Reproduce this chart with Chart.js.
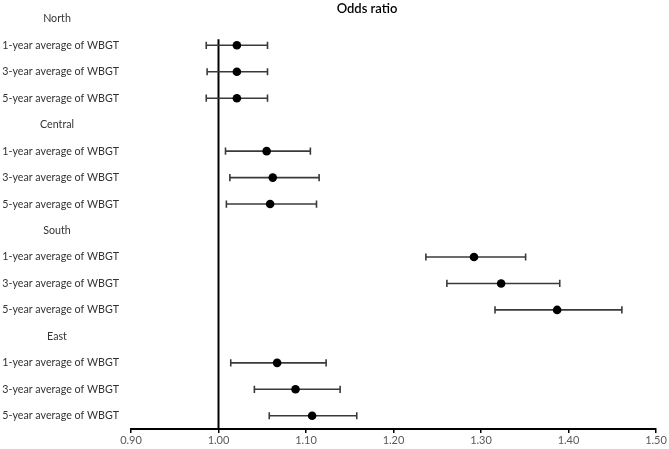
<!DOCTYPE html>
<html>
<head>
<meta charset="utf-8">
<script src="https://cdn.jsdelivr.net/npm/chart.js@4/dist/chart.umd.min.js"></script>
<style>
  html, body { margin: 0; padding: 0; background: #ffffff; }
  #wrap { width: 669px; height: 449px; }
</style>
</head>
<body>
<div id="wrap"><canvas id="forest" width="669" height="449"></canvas></div>
<script>
// Regions and exposure windows, in row order
const regions = ['North', 'Central', 'South', 'East'];
const exposures = ['1-year average of WBGT', '3-year average of WBGT', '5-year average of WBGT'];

// Odds ratios with 95% CI (region by region)
const oddsRatio = [1.021, 1.021, 1.021, 1.055, 1.062, 1.059, 1.292, 1.323, 1.387, 1.067, 1.088, 1.107];
const lowerCI   = [0.986, 0.987, 0.986, 1.008, 1.013, 1.009, 1.237, 1.261, 1.316, 1.014, 1.041, 1.058];
const upperCI   = [1.056, 1.056, 1.056, 1.105, 1.115, 1.112, 1.351, 1.390, 1.461, 1.123, 1.139, 1.158];

// X axis ticks and reference line
const xTicks = [0.90, 1.00, 1.10, 1.20, 1.30, 1.40, 1.50];
const nullValue = 1.00;

const FONT = 'Lato, "Open Sans", sans-serif';

// Build row layout: a header row per region followed by its exposure rows
const rowLabels = [];
const headerRows = [];
const dataRows = [];
regions.forEach((r) => {
    headerRows.push({ row: rowLabels.length, text: r });
    rowLabels.push('');
    exposures.forEach((e) => {
        dataRows.push(rowLabels.length);
        rowLabels.push(e);
    });
});

// One dataset per confidence interval so each gets its own line + caps
const ciSets = dataRows.map((row, i) => ({
    data: [{ x: lowerCI[i], y: row }, { x: upperCI[i], y: row }],
    showLine: true,
    borderColor: '#3a3a3a',
    borderWidth: 1.6,
    pointStyle: 'line',
    rotation: 90,
    pointRadius: 3.6,
    pointBorderWidth: 1.6,
    pointBorderColor: '#3a3a3a',
    order: 2
}));

const pointSet = {
    data: dataRows.map((row, i) => ({ x: oddsRatio[i], y: row })),
    showLine: false,
    pointStyle: 'circle',
    pointRadius: 4.3,
    backgroundColor: '#000000',
    pointBorderColor: '#000000',
    pointBorderWidth: 0,
    order: 1
};

const refLineSet = {
    data: [{ x: nullValue, y: 0.77 }, { x: nullValue, y: rowLabels.length - 0.5 }],
    showLine: true,
    borderColor: '#000000',
    borderWidth: 2,
    pointRadius: 0,
    order: 3
};

// Draws the region headers (centred) and the chart title
const headerPlugin = {
    id: 'headers',
    afterDraw(chart) {
        const ctx = chart.ctx;
        const y = chart.scales.y;
        ctx.save();
        ctx.fillStyle = '#333333';
        ctx.font = '10.7px ' + FONT;
        ctx.textAlign = 'center';
        ctx.textBaseline = 'middle';
        headerRows.forEach((h) => {
            ctx.fillText(h.text, 57, y.getPixelForValue(h.row));
        });
        ctx.fillStyle = '#000000';
        ctx.font = '600 13px ' + FONT;
        ctx.fillText('Odds ratio', 367, 9);
        ctx.restore();
    }
};

new Chart(document.getElementById('forest'), {
    type: 'scatter',
    data: { datasets: [refLineSet, ...ciSets, pointSet] },
    options: {
        responsive: false,
        animation: false,
        layout: { padding: { top: 4, right: 13, left: 0, bottom: 0 } },
        plugins: {
            legend: { display: false },
            tooltip: { enabled: false }
        },
        scales: {
            x: {
                type: 'linear',
                min: xTicks[0],
                max: xTicks[xTicks.length - 1],
                afterBuildTicks: (scale) => { scale.ticks = xTicks.map((v) => ({ value: v })); },
                afterFit: (scale) => {
                    scale.height = 20;
                    scale.paddingLeft = 0;
                    scale.paddingRight = 0;
                },
                ticks: {
                    callback: (v) => Number(v).toFixed(2),
                    color: '#595959',
                    font: { family: FONT, size: 11 },
                    padding: 1,
                    maxRotation: 0
                },
                grid: {
                    drawOnChartArea: false,
                    drawTicks: true,
                    tickLength: 4,
                    color: '#000000',
                    lineWidth: 1.5
                },
                border: { display: true, color: '#000000', width: 2 }
            },
            y: {
                type: 'linear',
                reverse: true,
                min: -0.5,
                max: rowLabels.length - 0.5,
                afterBuildTicks: (scale) => { scale.ticks = rowLabels.map((_, i) => ({ value: i })); },
                afterFit: (scale) => {
                    scale.width = 131;
                    scale.paddingTop = 0;
                    scale.paddingBottom = 0;
                },
                ticks: {
                    callback: (v) => rowLabels[v] || '',
                    color: '#333333',
                    font: { family: FONT, size: 10.7 },
                    padding: 12,
                    autoSkip: false
                },
                grid: { display: false, drawTicks: false },
                border: { display: false }
            }
        }
    },
    plugins: [headerPlugin]
});
</script>
</body>
</html>
